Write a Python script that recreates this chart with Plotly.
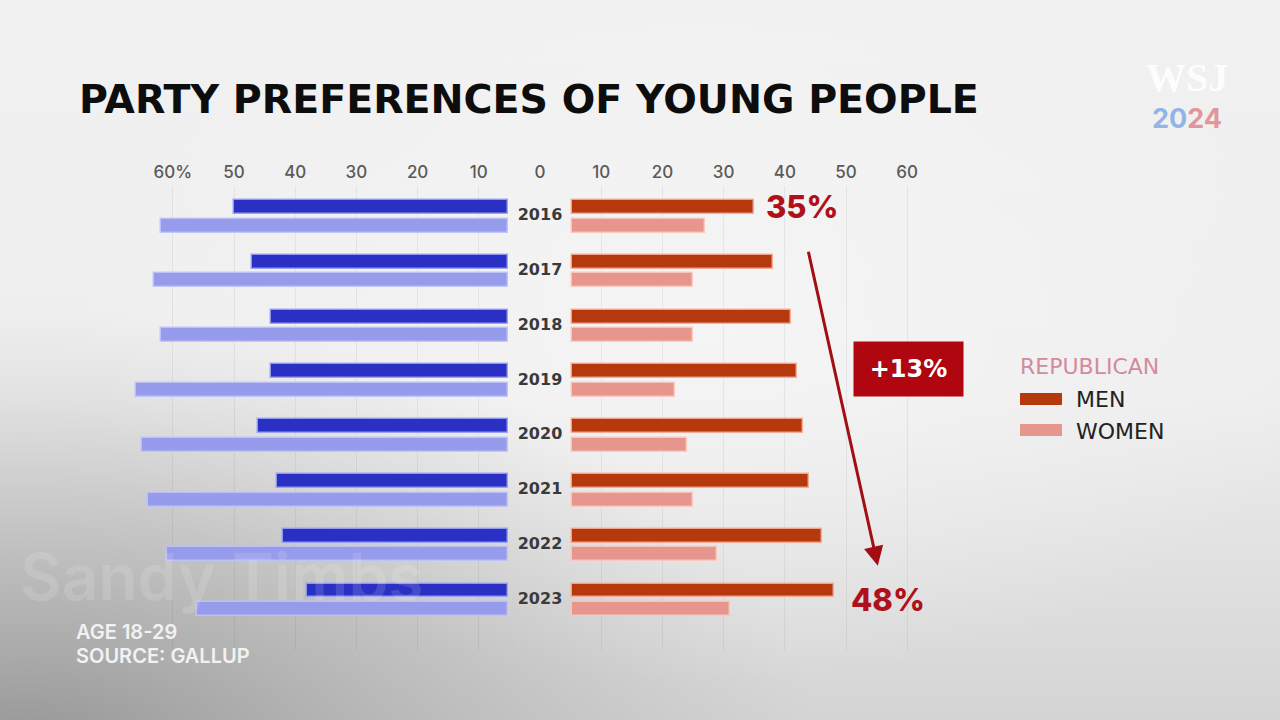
import base64
import plotly.graph_objects as go

# ---------------- data ----------------
years = ["2016", "2017", "2018", "2019", "2020", "2021", "2022", "2023"]
dem_men = [50, 47, 44, 44, 46, 43, 42, 38]
dem_women = [62, 63, 62, 66, 65, 64, 61, 56]
rep_men = [35, 38, 41, 42, 43, 44, 46, 48]
rep_women = [27, 25, 25, 22, 24, 25, 29, 31]
tick_vals = [-60, -50, -40, -30, -20, -10, 0, 10, 20, 30, 40, 50, 60]
tick_text = ["60%", "50", "40", "30", "20", "10", "0", "10", "20", "30", "40", "50", "60"]

# ---------------- layout constants ----------------
W, H = 1280, 720
MT, MB = 186, 70
PH = H - MT - MB
GAP = 5.15          # bars start away from zero to leave room for year labels
BAR_W = 0.255
OFF = 0.17

def pxx(x):
    return x / W

def pyy(y):
    return (H - MB - y) / PH

C_DM = "#2b30c4"
C_DW = "#969bec"
C_RM = "#b6390e"
C_RW = "#e6968c"
C_RED = "#b0101b"
FONT = "Inter"
WIDE = "DejaVu Sans"

idx = list(range(len(years)))

fig = go.Figure()

def bars(vals, sign, pos_off, color, line_color, name):
    fig.add_trace(go.Bar(
        orientation="h",
        y=[i + pos_off for i in idx],
        x=[sign * (v - GAP) for v in vals],
        base=[sign * GAP] * len(vals),
        width=BAR_W,
        marker=dict(color=color, line=dict(color=line_color, width=1.5)),
        name=name, showlegend=False, hoverinfo="skip",
    ))

bars(dem_men, -1, -OFF, C_DM, "rgba(150,160,245,0.9)", "Dem men")
bars(dem_women, -1, OFF, C_DW, "rgba(190,195,250,0.9)", "Dem women")
bars(rep_men, 1, -OFF, C_RM, "rgba(245,170,150,0.9)", "Rep men")
bars(rep_women, 1, OFF, C_RW, "rgba(250,200,190,0.9)", "Rep women")

fig.add_trace(go.Scatter(
    x=[0] * len(years), y=idx, text=years, mode="text",
    textfont=dict(family=WIDE, size=16, color="#3a3a3a", weight=700),
    showlegend=False, hoverinfo="skip",
))

# background gradient as SVG
svg = f"""<svg xmlns='http://www.w3.org/2000/svg' width='{W}' height='{H}' viewBox='0 0 {W} {H}'>
<defs>
<linearGradient id='v' x1='0' y1='0' x2='0' y2='1'>
<stop offset='0' stop-color='#f1f1f1'/><stop offset='0.55' stop-color='#eeeeee'/><stop offset='1' stop-color='#d4d4d4'/>
</linearGradient>
<radialGradient id='r' cx='0.02' cy='1.05' r='0.62'>
<stop offset='0' stop-color='#858585' stop-opacity='0.8'/><stop offset='0.55' stop-color='#999999' stop-opacity='0.38'/><stop offset='1' stop-color='#aaaaaa' stop-opacity='0'/>
</radialGradient>
<radialGradient id='w' cx='0.55' cy='0.45' r='0.5'>
<stop offset='0' stop-color='#f6f6f6' stop-opacity='0.8'/><stop offset='1' stop-color='#f6f6f6' stop-opacity='0'/>
</radialGradient>
</defs>
<rect width='{W}' height='{H}' fill='url(#v)'/>
<rect width='{W}' height='{H}' fill='url(#w)'/>
<rect width='{W}' height='{H}' fill='url(#r)'/>
</svg>"""
src = "data:image/svg+xml;base64," + base64.b64encode(svg.encode()).decode()

ann = []
# watermark (drawn first, faint)
ann.append(dict(text="Sandy Timbs", x=pxx(18), y=pyy(576), xref="paper", yref="paper",
                xanchor="left", yanchor="middle", showarrow=False,
                font=dict(family=FONT, size=64, color="rgba(255,255,255,0.13)", weight=600)))
# title
ann.append(dict(text="PARTY PREFERENCES OF YOUNG PEOPLE", x=pxx(77), y=pyy(99),
                xref="paper", yref="paper", xanchor="left", yanchor="middle", showarrow=False,
                font=dict(family=WIDE, size=39.5, color="#0d0d0d", weight=700)))
# percentage callouts from data
ann.append(dict(text=f"{rep_men[0]}%", x=rep_men[0], y=idx[0] - OFF, xref="x", yref="y",
                xanchor="left", yanchor="middle", xshift=10, showarrow=False,
                font=dict(family=FONT, size=31, color=C_RED, weight=800)))
ann.append(dict(text=f"{rep_men[-1]}%", x=rep_men[-1], y=idx[-1], xref="x", yref="y",
                xanchor="left", yanchor="middle", xshift=15, showarrow=False,
                font=dict(family=FONT, size=31, color=C_RED, weight=800)))
# arrow
ann.append(dict(x=55.2, y=6.38, ax=43.8, ay=0.62, xref="x", yref="y", axref="x", ayref="y",
                text="", showarrow=True, arrowhead=2, arrowsize=1.3, arrowwidth=3,
                arrowcolor="#a30d14"))
# +13% box
ann.append(dict(text=f"+{rep_men[-1] - rep_men[0]}%", x=pxx(908.5), y=pyy(369),
                xref="paper", yref="paper", xanchor="center", yanchor="middle", showarrow=False,
                width=107, height=52, bgcolor="#b0060f",
                font=dict(family=WIDE, size=24, color="white", weight=700)))
# legend
ann.append(dict(text="REPUBLICAN", x=pxx(1018), y=pyy(366), xref="paper", yref="paper",
                xanchor="left", yanchor="middle", showarrow=False,
                font=dict(family=WIDE, size=22, color="#d38b9c")))
ann.append(dict(text="MEN", x=pxx(1074), y=pyy(399), xref="paper", yref="paper",
                xanchor="left", yanchor="middle", showarrow=False,
                font=dict(family=WIDE, size=22, color="#222222")))
ann.append(dict(text="WOMEN", x=pxx(1074), y=pyy(431), xref="paper", yref="paper",
                xanchor="left", yanchor="middle", showarrow=False,
                font=dict(family=WIDE, size=22, color="#222222")))
# footnotes
ann.append(dict(text="AGE 18-29", x=pxx(74), y=pyy(632), xref="paper", yref="paper",
                xanchor="left", yanchor="middle", showarrow=False,
                font=dict(family=FONT, size=20, color="#f2f2f2", weight=600)))
ann.append(dict(text="SOURCE: GALLUP", x=pxx(74), y=pyy(656), xref="paper", yref="paper",
                xanchor="left", yanchor="middle", showarrow=False,
                font=dict(family=FONT, size=20, color="#f2f2f2", weight=600)))
# logo
ann.append(dict(text="WSJ", x=pxx(1187), y=pyy(78), xref="paper", yref="paper",
                xanchor="center", yanchor="middle", showarrow=False,
                font=dict(family="Liberation Serif", size=40, color="rgba(255,255,255,0.9)", weight=700)))
ann.append(dict(text="<span style='color:#92b5e6'>20</span><span style='color:#e2969b'>24</span>",
                x=pxx(1187), y=pyy(118), xref="paper", yref="paper",
                xanchor="center", yanchor="middle", showarrow=False,
                font=dict(family=FONT, size=27, weight=700)))

shapes = [
    dict(type="rect", xref="paper", yref="paper", x0=pxx(1020), x1=pxx(1062),
         y0=pyy(405), y1=pyy(393), fillcolor=C_RM, line=dict(width=0), layer="above"),
    dict(type="rect", xref="paper", yref="paper", x0=pxx(1020), x1=pxx(1062),
         y0=pyy(436), y1=pyy(424), fillcolor=C_RW, line=dict(width=0), layer="above"),
]

fig.update_layout(
    width=W, height=H,
    margin=dict(l=0, r=0, t=MT, b=MB, pad=0),
    paper_bgcolor="#efefef", plot_bgcolor="rgba(0,0,0,0)",
    barmode="overlay", bargap=0,
    showlegend=False,
    annotations=ann, shapes=shapes,
    images=[dict(source=src, xref="paper", yref="paper", x=0, y=pyy(0),
                 sizex=1, sizey=H / PH, sizing="stretch", xanchor="left", yanchor="top",
                 layer="below")],
    xaxis=dict(range=[-540 / 6.12, 740 / 6.12], side="top",
               tickvals=tick_vals, ticktext=tick_text, ticks="", ticklabelstandoff=4,
               tickfont=dict(family=FONT, size=17, color="#5a5a5a", weight=500),
               showgrid=False, zeroline=False, showline=False, fixedrange=True,
               minor=dict(tickvals=[v for v in tick_vals if v != 0], showgrid=True,
                          gridcolor="rgba(0,0,0,0.055)", gridwidth=1, ticks="")),
    yaxis=dict(range=[7.916, -0.553], showticklabels=False, showgrid=False,
               zeroline=False, showline=False, fixedrange=True),
)

fig.write_html("out.html")
